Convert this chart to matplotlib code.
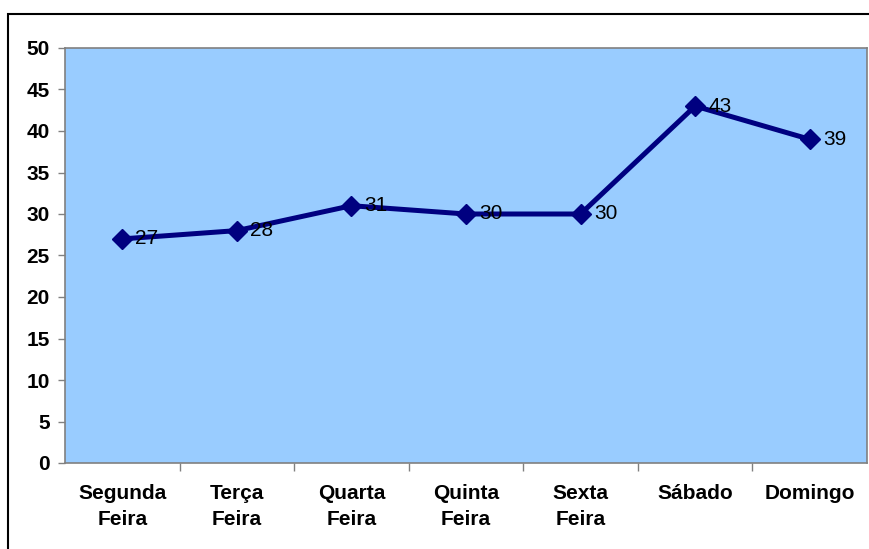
import matplotlib.pyplot as plt
from matplotlib.patches import Rectangle

# Weekly figures
days = ['Segunda\nFeira', 'Terça\nFeira', 'Quarta\nFeira', 'Quinta\nFeira',
        'Sexta\nFeira', 'Sábado', 'Domingo']
values = [27, 28, 31, 30, 30, 43, 39]

plt.rcParams['font.family'] = ['Liberation Sans', 'DejaVu Sans']

fig = plt.figure(figsize=(8.7, 5.49), dpi=100)
ax = fig.add_axes([65 / 870, 1 - 463 / 549, 802 / 870, 415 / 549])

# outer chart frame (top and left edges show)
fig.patches.append(Rectangle((8 / 870, -0.1), 1.2, 0.1 + (549 - 14) / 549,
                             transform=fig.transFigure, fill=False,
                             edgecolor='black', linewidth=1.5))

ax.set_facecolor('#99CCFF')
for side in ax.spines.values():
    side.set_color('#808080')
    side.set_linewidth(1.2)

x = list(range(len(days)))
ax.plot(x, values, color='#000080', linewidth=3.6, marker='D',
        markersize=10.5, zorder=3)

for xi, v in zip(x, values):
    ax.annotate(str(v), (xi, v), xytext=(9.5, 0), textcoords='offset points',
                ha='left', va='center', fontsize=15, color='black')

ax.set_xlim(-0.5, len(days) - 0.5)
ax.set_ylim(0, 50)
ax.set_yticks(range(0, 51, 5))
ax.set_xticks(x)
ax.set_xticklabels(days, fontsize=15, fontweight='bold', linespacing=1.45)
ax.set_xticks([i + 0.5 for i in x[:-1]], minor=True)
ax.tick_params(axis='x', which='major', length=0, pad=15)
ax.tick_params(axis='x', which='minor', length=6, color='#808080', width=1)
ax.tick_params(axis='y', length=5, color='#808080', width=1, pad=6,
               labelsize=15)
for lbl in ax.get_yticklabels():
    lbl.set_fontweight('bold')

fig.savefig('out.png', dpi=100)
